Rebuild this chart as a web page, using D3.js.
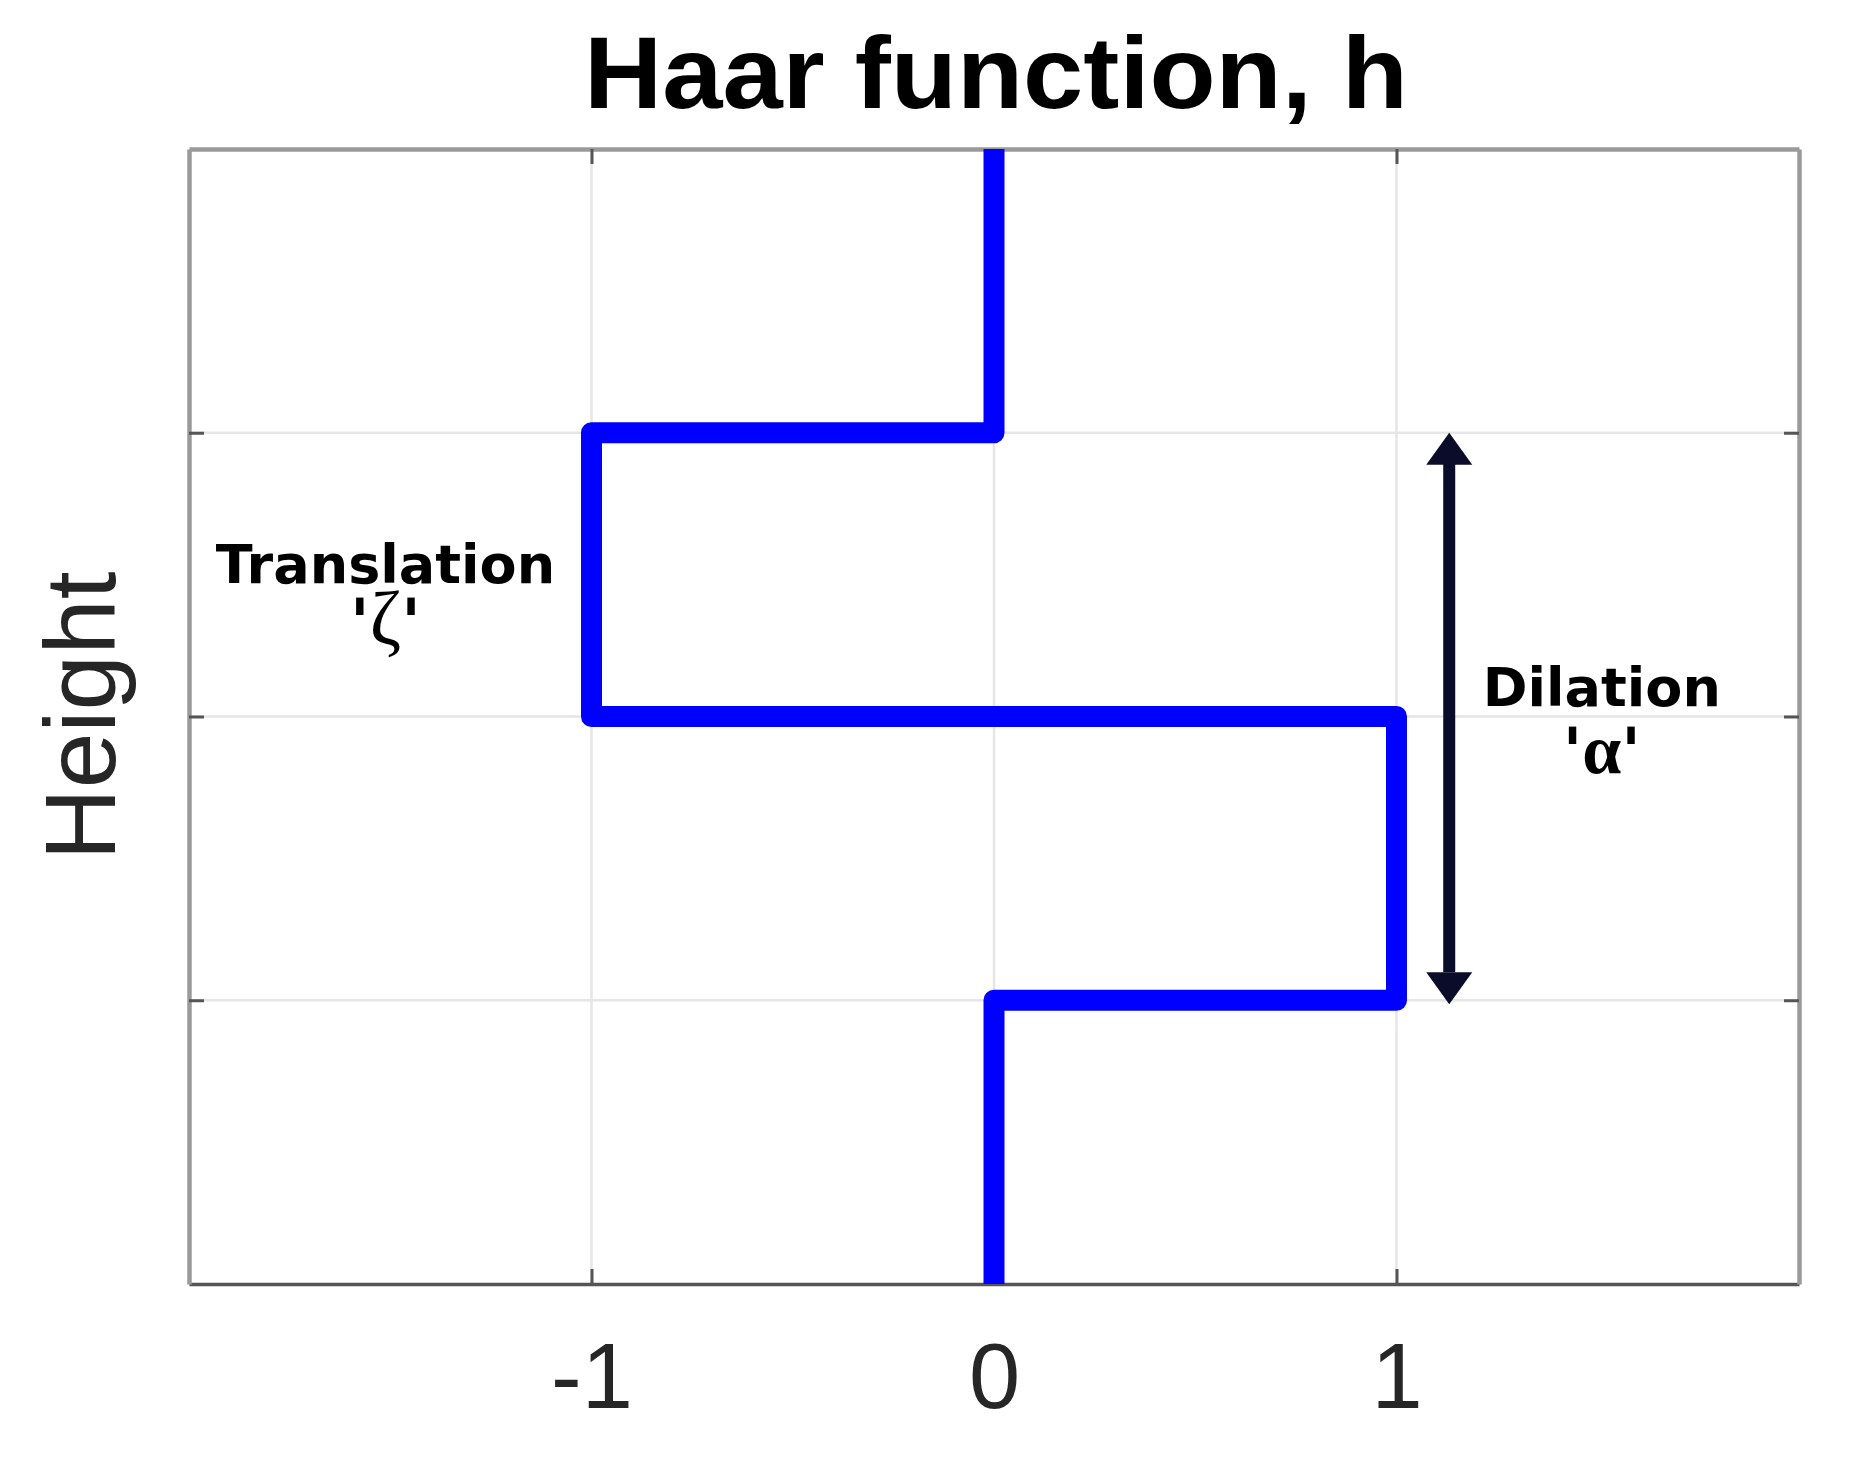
<!DOCTYPE html>
<html>
<head>
<meta charset="utf-8">
<script src="https://cdn.jsdelivr.net/npm/d3@7"></script>
<style>
  html, body { margin: 0; padding: 0; background: #fff; }
  svg { display: block; }
</style>
</head>
<body>
<svg id="chart" width="1850" height="1457"></svg>
<script>
// ---- data ----
const titleText = "Haar function, h";
const yLabel = "Height";
const xTickValues = [-1, 0, 1];
const xTickLabels = ["-1", "0", "1"];
const yTickValues = [1, 2, 3];
// Haar step path (x = amplitude, y = height)
const haarX = [0, 0, -1, -1, 1, 1, 0, 0];
const haarY = [4, 3, 3, 2, 2, 1, 1, 0];
// Dilation arrow span (height units)
const arrowSpan = [1, 3];
const annotationNames = ["Translation", "Dilation"];
const annotationSymbols = ["\u03B6", "\u03B1"];

// ---- layout ----
const W = 1850, H = 1457;
const L = 189, R = 1799, T = 149, B = 1284;

const svg = d3.select("#chart");
svg.append("rect").attr("width", W).attr("height", H).attr("fill", "#fff");

const x = d3.scaleLinear().domain([-2, 2]).range([L, R]);
const y = d3.scaleLinear().domain([0, 4]).range([B, T]);

// grid
const grid = svg.append("g");
grid.selectAll("line.vx").data(xTickValues).join("line")
  .attr("x1", d => x(d)).attr("x2", d => x(d))
  .attr("y1", T).attr("y2", B)
  .attr("stroke", "#e6e6e6").attr("stroke-width", 2.5);
grid.selectAll("line.hy").data(yTickValues).join("line")
  .attr("x1", L).attr("x2", R)
  .attr("y1", d => y(d)).attr("y2", d => y(d))
  .attr("stroke", "#e6e6e6").attr("stroke-width", 2.5);

// axes with inward ticks
const tickLen = 15;
const axB = svg.append("g").attr("transform", `translate(0,${B})`)
  .call(d3.axisBottom(x).tickValues(xTickValues)
    .tickFormat((d, i) => xTickLabels[i]).tickSizeInner(-tickLen).tickSizeOuter(0));
const axT = svg.append("g").attr("transform", `translate(0,${T})`)
  .call(d3.axisTop(x).tickValues(xTickValues).tickFormat("").tickSizeInner(-tickLen).tickSizeOuter(0));
const axL = svg.append("g").attr("transform", `translate(${L},0)`)
  .call(d3.axisLeft(y).tickValues(yTickValues).tickFormat("").tickSizeInner(-tickLen).tickSizeOuter(0));
const axR = svg.append("g").attr("transform", `translate(${R},0)`)
  .call(d3.axisRight(y).tickValues(yTickValues).tickFormat("").tickSizeInner(-tickLen).tickSizeOuter(0));

[axT, axL, axR].forEach(a => {
  a.select(".domain").attr("stroke", "#9a9a9a").attr("stroke-width", 4.5);
  a.selectAll(".tick line").attr("stroke", "#555").attr("stroke-width", 3);
});
axB.select(".domain").attr("stroke", "#555").attr("stroke-width", 3.5);
axB.selectAll(".tick line").attr("stroke", "#555").attr("stroke-width", 3);
axB.selectAll(".tick text")
  .attr("y", 124).attr("dy", 0)
  .attr("font-family", "Liberation Sans, Arial, sans-serif")
  .attr("font-size", 92)
  .attr("fill", "#262626");

// Haar line
const pts = haarX.map((v, i) => [v, haarY[i]]);
svg.append("clipPath").attr("id", "plotclip")
  .append("rect").attr("x", L).attr("y", T).attr("width", R - L).attr("height", B - T);
svg.append("path")
  .attr("clip-path", "url(#plotclip)")
  .attr("d", d3.line().x(d => x(d[0])).y(d => y(d[1]))(pts))
  .attr("fill", "none")
  .attr("stroke", "#0000ff")
  .attr("stroke-width", 21)
  .attr("stroke-linejoin", "round")
  .attr("stroke-linecap", "butt");

// Dilation arrow
const ax = x(1.131);
const headH = 32, headW = 46;
const arrowColor = "#0b0c2a";
svg.append("line")
  .attr("x1", ax).attr("x2", ax)
  .attr("y1", y(arrowSpan[1]) + headH - 4).attr("y2", y(arrowSpan[0]) - headH + 4)
  .attr("stroke", arrowColor).attr("stroke-width", 12);
svg.append("path")
  .attr("d", `M${ax},${y(arrowSpan[1])} L${ax - headW / 2},${y(arrowSpan[1]) + headH} L${ax + headW / 2},${y(arrowSpan[1]) + headH} Z`)
  .attr("fill", arrowColor);
svg.append("path")
  .attr("d", `M${ax},${y(arrowSpan[0]) + 4} L${ax - headW / 2},${y(arrowSpan[0]) + 4 - headH} L${ax + headW / 2},${y(arrowSpan[0]) + 4 - headH} Z`)
  .attr("fill", arrowColor);

// annotations (each a single two-line text element)
const annFont = "DejaVu Sans, Verdana, sans-serif";
const annPos = [
  { cx: x(-1.512), base: 583, dy: 61, symWeight: "normal", symSize: 76 },
  { cx: x(1.51), base: 706, dy: 67, symWeight: "bold", symSize: 70 }
];
annotationNames.forEach((name, i) => {
  const p = annPos[i];
  const t = svg.append("text")
    .attr("x", p.cx).attr("y", p.base)
    .attr("text-anchor", "middle")
    .attr("font-family", annFont)
    .attr("font-weight", "bold")
    .attr("font-size", 54)
    .attr("fill", "#000");
  t.append("tspan").attr("x", p.cx).text(name);
  t.append("tspan").attr("x", p.cx).attr("dy", p.dy)
    .attr("font-size", 64)
    .text("'")
    .append("tspan")
    .attr("font-family", "Liberation Serif, Times New Roman, serif")
    .attr("font-weight", p.symWeight)
    .attr("font-size", p.symSize)
    .text(annotationSymbols[i]);
  t.append("tspan").attr("font-size", 64).text("'");
});

// title
svg.append("text")
  .attr("x", 996).attr("y", 108)
  .attr("text-anchor", "middle")
  .attr("font-family", "Liberation Sans, Arial, sans-serif")
  .attr("font-weight", "bold")
  .attr("font-size", 102)
  .attr("textLength", 824)
  .attr("lengthAdjust", "spacingAndGlyphs")
  .attr("fill", "#000")
  .text(titleText);

// y label
svg.append("text")
  .attr("transform", `translate(115,716) rotate(-90)`)
  .attr("text-anchor", "middle")
  .attr("font-family", "Liberation Sans, Arial, sans-serif")
  .attr("font-size", 100)
  .attr("fill", "#262626")
  .text(yLabel);
</script>
</body>
</html>
